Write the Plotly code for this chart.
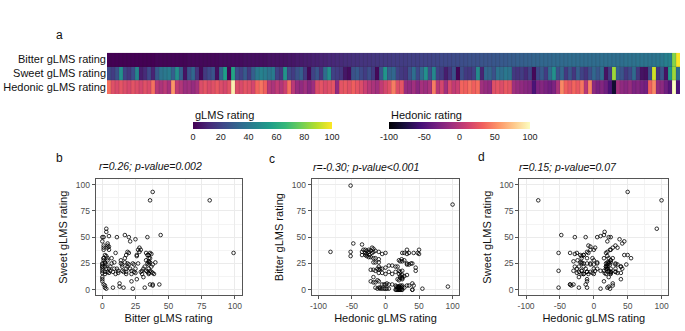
import plotly.graph_objects as go

# ---- data (one entry per participant, ordered by bitter rating) ----
bitter = [0,0,0,0,0,0,0,0,0,0,
          0,0,1,1,1,1,1,1,1,1,
          2,2,2,2,2,2,2,2,3,3,
          3,3,3,3,4,4,4,4,4,4,
          5,5,5,5,5,6,6,7,7,8,
          8,9,9,10,10,11,11,12,12,13,
          13,14,14,15,15,15,16,16,17,17,
          17,18,18,18,18,19,19,19,20,20,
          20,21,21,22,22,22,23,23,24,24,
          25,25,25,26,26,26,27,27,28,28,
          29,29,30,30,31,31,32,32,33,33,
          33,34,34,34,34,35,35,35,35,35,
          35,35,35,36,36,36,36,36,36,37,
          37,37,38,38,38,38,38,39,40,43,
          44,81,99]
sweet = [22,18,25,50,20,16,24,46,8,12,
         22,10,28,38,40,42,30,50,30,5,
         25,33,15,2,17,22,26,4,32,55,
         1,58,24,20,28,17,30,40,44,42,
         38,41,20,16,51,22,18,25,30,17,
         2,20,26,15,35,50,20,18,16,6,
         3,25,28,22,18,24,17,2,26,52,
         30,33,20,17,15,25,36,22,35,50,
         24,46,20,18,8,15,25,1,24,17,
         16,20,48,10,33,32,25,38,36,40,
         38,17,15,18,12,20,2,22,28,18,
         35,50,25,33,17,26,16,30,20,15,
         24,33,27,35,5,18,85,30,26,17,
         22,34,16,5,4,24,93,15,26,5,
         52,85,35]
hedonic = [40,22,18,25,20,16,24,20,15,22,
           18,40,0,-5,2,-8,55,5,-2,-12,
           -10,-15,-8,20,25,18,22,28,20,16,
           24,93,20,18,25,22,15,35,42,32,
           0,-5,5,-2,10,40,2,-15,-18,-10,
           -22,-12,20,25,18,22,25,-18,25,28,
           22,32,25,20,10,0,-5,-10,5,15,
           22,45,20,25,-15,-18,-10,-22,-8,-12,
           -5,45,0,15,-10,18,5,10,35,32,
           40,32,38,-10,-15,-18,22,25,20,28,
           24,-10,-15,-18,-22,-25,-52,-28,-24,-30,
           -35,-28,-5,50,32,25,35,28,42,0,
           48,-20,-30,-25,-35,-52,-82,-10,-18,-22,
           -15,-28,-25,-30,-33,32,50,-18,-20,-35,
           -48,100,-52]
row_labels = ["Hedonic gLMS rating", "Sweet gLMS rating", "Bitter gLMS rating"]
glms_ticks = [0, 20, 40, 60, 80, 100]
hed_ticks = [-100, -50, 0, 50, 100]
hed_ticktext = ["-100", "-50", "0", "50", "100"]
glms_axis_ticks = [0, 25, 50, 75, 100]
titles = ["<i>r=0.26; p-value=0.002</i>", "<i>r=-0.30; p-value<0.001</i>", "<i>r=0.15; p-value=0.07</i>"]
panel_letters = ["a", "b", "c", "d"]
legend_titles = ["gLMS rating", "Hedonic rating"]

n = len(bitter)
W, H = 685, 331
FONT = "Liberation Sans, Arial, sans-serif"

def px(x):
    return x / W

def py(y):
    return 1 - y / H

fig = go.Figure()

# ---- heatmap (panel a) ----
cb_common = dict(orientation="h", xanchor="center", y=py(121.8), yanchor="top",
                 lenmode="pixels", thickness=7, thicknessmode="pixels",
                 outlinewidth=0, xpad=0, ypad=0, ticks="",
                 tickfont=dict(size=9, color="#222", family=FONT))
fig.add_trace(go.Heatmap(
    z=[sweet, bitter], x0=1, dx=1, y0=1, dy=1,
    colorscale="Viridis", zmin=0, zmax=100, xaxis="x", yaxis="y",
    hoverinfo="skip",
    colorbar=dict(cb_common, x=px(262.5), len=139, tickvals=glms_ticks)))
fig.add_trace(go.Heatmap(
    z=[hedonic], x0=1, dx=1, y0=0, dy=1,
    colorscale="Magma", zmin=-100, zmax=100, xaxis="x", yaxis="y",
    hoverinfo="skip",
    colorbar=dict(cb_common, x=px(459.5), len=141, tickvals=hed_ticks,
                  ticktext=hed_ticktext)))

# tile borders derived from the column count
sx, sy = [], []
for i in range(1, n):
    sx += [i + 0.5, i + 0.5, None]
    sy += [-0.5, 2.5, None]
for r in (0.5, 1.5):
    sx += [0.5, n + 0.5, None]
    sy += [r, r, None]
fig.add_trace(go.Scatter(x=sx, y=sy, mode="lines", xaxis="x", yaxis="y",
                         line=dict(color="rgba(40,40,40,0.3)", width=0.5),
                         hoverinfo="skip", showlegend=False))

# ---- scatter panels ----
pairs = [(bitter, sweet, "x2", "y2"), (hedonic, bitter, "x3", "y3"), (hedonic, sweet, "x4", "y4")]
for xs, ys, xa, ya in pairs:
    fig.add_trace(go.Scatter(x=xs, y=ys, mode="markers", xaxis=xa, yaxis=ya,
                             marker=dict(symbol="circle-open", size=3.6, color="black",
                                         line=dict(width=0.8, color="black")),
                             showlegend=False, hoverinfo="skip"))

def sc_axis(domain, rng, tv, tt, title, anchor, standoff):
    step = tv[1] - tv[0]
    return dict(domain=domain, range=rng, tickvals=tv, ticktext=tt, anchor=anchor,
                automargin=False,
                showline=True, mirror=True, linecolor="#555", linewidth=1,
                ticks="outside", ticklen=3, tickwidth=1, tickcolor="#555",
                showgrid=True, gridcolor="#ebebeb", gridwidth=1,
                minor=dict(showgrid=True, gridcolor="#f4f4f4", gridwidth=0.6,
                           tickvals=[v + step / 2 for v in tv[:-1]], ticks=""),
                zeroline=False, tickfont=dict(size=8.5, color="#4d4d4d", family=FONT),
                title=dict(text=title, standoff=standoff,
                           font=dict(size=11, color="#111", family=FONT)))

ydom = [py(295), py(179.3)]
xb = [px(95.7), px(241.5)]
xc = [px(311.7), px(459.3)]
xd = [px(519.3), px(668.3)]
gl = [-5, 105]
hd = [-110, 110]
gtt = [str(v) for v in glms_axis_ticks]

fig.update_layout(
    width=W, height=H, autosize=False,
    margin=dict(l=0, r=0, t=0, b=0, autoexpand=False),
    paper_bgcolor="white", plot_bgcolor="white",
    font=dict(family=FONT, color="#111"),
    showlegend=False,
    xaxis=dict(domain=[px(107), px(680)], range=[0.5, n + 0.5], visible=False, anchor="y"),
    yaxis=dict(domain=[py(94), py(52.7)], range=[-0.5, 2.5], tickvals=[0, 1, 2],
               ticktext=row_labels, ticks="", showgrid=False, zeroline=False,
               showline=False, anchor="x", automargin=False,
               tickfont=dict(size=11, color="#111", family=FONT)),
    xaxis2=sc_axis(xb, gl, glms_axis_ticks, gtt, "Bitter gLMS rating", "y2", 4),
    yaxis2=sc_axis(ydom, gl, glms_axis_ticks, gtt, "Sweet gLMS rating", "x2", 5),
    xaxis3=sc_axis(xc, hd, hed_ticks, hed_ticktext, "Hedonic gLMS rating", "y3", 4),
    yaxis3=sc_axis(ydom, gl, glms_axis_ticks, gtt, "Bitter gLMS rating", "x3", 5),
    xaxis4=sc_axis(xd, hd, hed_ticks, hed_ticktext, "Hedonic gLMS rating", "y4", 4),
    yaxis4=sc_axis(ydom, gl, glms_axis_ticks, gtt, "Sweet gLMS rating", "x4", 5),
)

ann = []
letter_pos = [(59.5, 35), (59.5, 158), (271.5, 159), (481.5, 157)]
for t, (x, y) in zip(panel_letters, letter_pos):
    ann.append(dict(text=t, x=px(x), y=py(y), xref="paper", yref="paper",
                    xanchor="center", yanchor="middle", showarrow=False,
                    font=dict(size=12, color="#111", family=FONT)))
title_pos = [(96.5, 166), (310.5, 166.5), (516.5, 166.5)]
for t, (x, y) in zip(titles, title_pos):
    ann.append(dict(text=t, x=px(x), y=py(y), xref="paper", yref="paper",
                    xanchor="left", yanchor="middle", showarrow=False,
                    font=dict(size=10.5, color="#111", family=FONT)))
for t, x in zip(legend_titles, (192.5, 389)):
    ann.append(dict(text=t, x=px(x), y=py(114.5), xref="paper", yref="paper",
                    xanchor="left", yanchor="middle", showarrow=False,
                    font=dict(size=11, color="#111", family=FONT)))
fig.update_layout(annotations=ann)

fig.write_html("out.html", config={"displayModeBar": False},
               post_script="document.body.style.margin='0';document.body.style.overflow='hidden';")
